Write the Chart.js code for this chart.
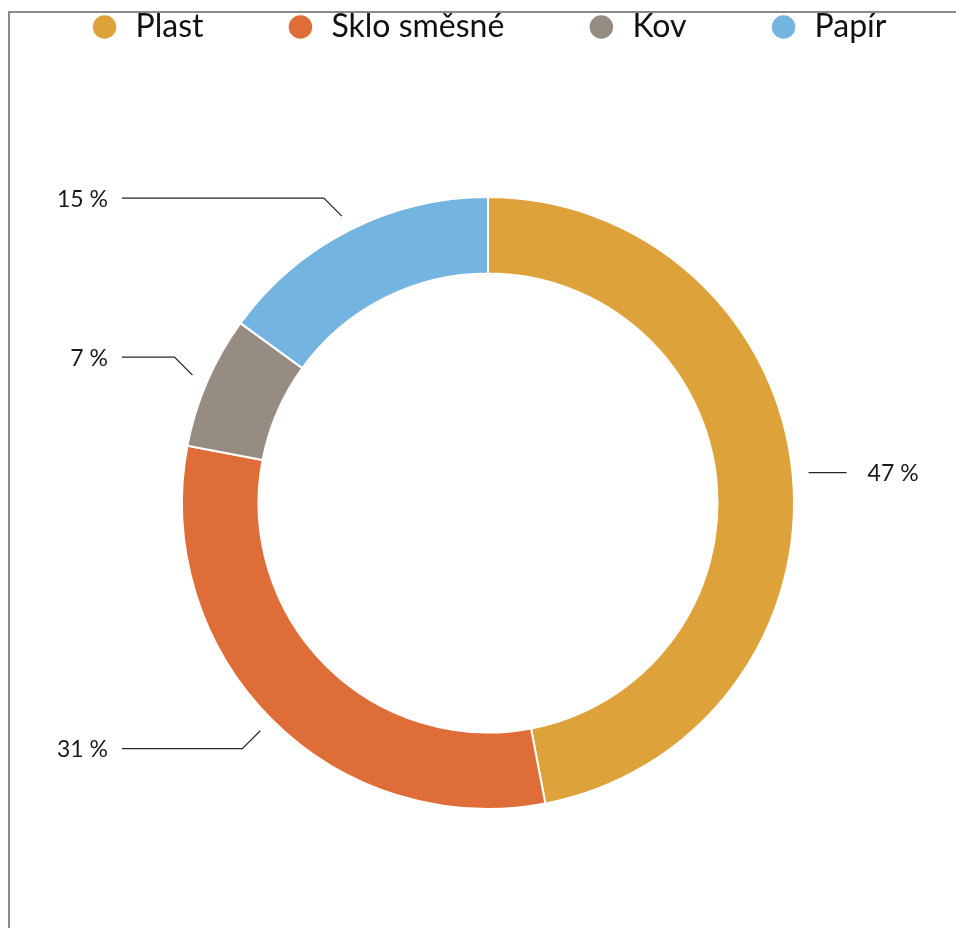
<!DOCTYPE html>
<html>
<head>
<meta charset="utf-8">
<script src="https://cdn.jsdelivr.net/npm/chart.js@4.4.1/dist/chart.umd.min.js"></script>
<style>
  html, body { margin: 0; padding: 0; background: #fff; overflow: hidden; width: 956px; height: 928px; }
  #frame { position: absolute; left: 8px; top: 11px; right: -4px; bottom: -4px; border-left: 2px solid #8a8a8a; border-top: 2px solid #8a8a8a; }
  #wrap { position: absolute; left: -62px; top: -71px; width: 1100px; height: 1024px; }
</style>
</head>
<body>
<div id="frame"></div>
<div id="wrap"><canvas id="c" width="1100" height="1024"></canvas></div>
<script>
const categories = ['Plast', 'Sklo směsné', 'Kov', 'Papír'];
const shares = [47, 31, 7, 15];
const sliceColors = ['#DDA33A', '#DE6D37', '#978C82', '#74B4E0'];

const leaderLabels = {
  id: 'leaderLabels',
  afterDatasetsDraw(chart) {
    const ctx = chart.ctx;
    const meta = chart.getDatasetMeta(0);
    ctx.save();
    ctx.strokeStyle = '#262626';
    ctx.lineWidth = 1.3;
    ctx.fillStyle = '#1a1a1a';
    ctx.font = '23px Lato';
    ctx.textBaseline = 'middle';
    meta.data.forEach((arc, i) => {
      const p = arc.getProps(['x', 'y', 'startAngle', 'endAngle', 'outerRadius'], true);
      const mid = (p.startAngle + p.endAngle) / 2;
      const c = Math.cos(mid), s = Math.sin(mid);
      const r0 = p.outerRadius + 16;
      const x0 = p.x + r0 * c, y0 = p.y + r0 * s;
      const text = chart.data.datasets[0].data[i] + ' %';
      ctx.beginPath();
      if (c > 0.5) {
        ctx.moveTo(x0, y0);
        ctx.lineTo(x0 + 38, y0);
        ctx.stroke();
        ctx.textAlign = 'left';
        ctx.fillText(text, x0 + 59, y0 + 1);
      } else {
        const ex = x0 - 18, ey = y0 + (s < 0 ? -18 : 18);
        const lx = p.x - p.outerRadius - 60;
        ctx.moveTo(x0, y0);
        ctx.lineTo(ex, ey);
        ctx.lineTo(lx, ey);
        ctx.stroke();
        ctx.textAlign = 'right';
        ctx.fillText(text, lx - 14, ey + 1);
      }
    });
    ctx.restore();
  }
};

new Chart(document.getElementById('c'), {
  type: 'doughnut',
  data: {
    labels: categories,
    datasets: [{
      data: shares,
      backgroundColor: sliceColors,
      borderColor: '#ffffff',
      borderWidth: 2,
      radius: 306,
      cutout: '75%'
    }]
  },
  options: {
    responsive: false,
    animation: false,
    events: [],
    layout: { padding: 0 },
    plugins: {
      legend: {
        position: 'top',
        labels: {
          usePointStyle: true,
          pointStyle: 'circle',
          boxHeight: 18,
          boxWidth: 30,
          padding: 82,
          color: '#111',
          font: { family: 'Lato', size: 32 }
        }
      },
      tooltip: { enabled: false }
    }
  },
  plugins: [leaderLabels]
});
</script>
</body>
</html>
